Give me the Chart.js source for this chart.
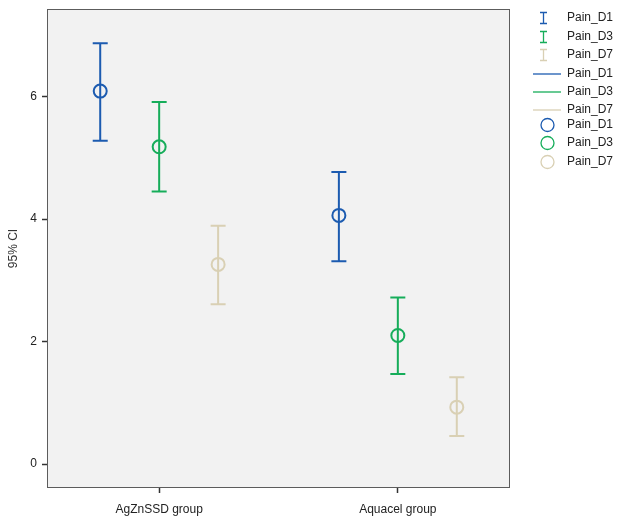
<!DOCTYPE html>
<html>
<head>
<meta charset="utf-8">
<script src="https://cdn.jsdelivr.net/npm/chart.js@4.4.0/dist/chart.umd.min.js"></script>
<style>
  html, body { margin: 0; padding: 0; background: #fff; }
  #wrap { width: 623px; height: 518px; position: relative; }
</style>
</head>
<body>
<div id="wrap"><canvas id="c" width="623" height="518"></canvas></div>
<script>
// groups on the x axis
const groups = ["AgZnSSD group", "Aquacel group"];
const seriesNames = ["Pain_D1", "Pain_D3", "Pain_D7"];
const seriesColors = ["#1c5bb0", "#16ad5a", "#d9d0b4"];

// means and 95% CI bounds, one value per group
const painD1Mean = [6.09, 4.06];
const painD1Low = [5.28, 3.31];
const painD1High = [6.87, 4.77];

const painD3Mean = [5.18, 2.10];
const painD3Low = [4.45, 1.47];
const painD3High = [5.91, 2.72];

const painD7Mean = [3.26, 0.93];
const painD7Low = [2.61, 0.46];
const painD7High = [3.89, 1.42];

const yTicks = [0, 2, 4, 6];
const dodge = [-0.247, 0, 0.247];

const means = [painD1Mean, painD3Mean, painD7Mean];
const lows = [painD1Low, painD3Low, painD7Low];
const highs = [painD1High, painD3High, painD7High];

const datasets = seriesNames.map((name, s) => ({
  label: name,
  data: means[s].map((m, g) => ({ x: g + 1 + dodge[s], y: m, lo: lows[s][g], hi: highs[s][g] })),
  borderColor: seriesColors[s],
  backgroundColor: "rgba(0,0,0,0)",
  borderWidth: 2,
  pointRadius: 6.5,
  pointHoverRadius: 6.5,
  pointStyle: "circle",
  showLine: false
}));

// background + frame + error bars + legend
const plotPlugin = {
  id: "plotStuff",
  beforeDatasetsDraw(chart) {
    const { ctx, scales } = chart;
    ctx.save();
    chart.data.datasets.forEach(ds => {
      ctx.strokeStyle = ds.borderColor;
      ctx.lineWidth = 2;
      ds.data.forEach(p => {
        const x = scales.x.getPixelForValue(p.x);
        const yl = scales.y.getPixelForValue(p.lo);
        const yh = scales.y.getPixelForValue(p.hi);
        ctx.beginPath();
        ctx.moveTo(x, yl); ctx.lineTo(x, yh);
        ctx.moveTo(x - 7.5, yl); ctx.lineTo(x + 7.5, yl);
        ctx.moveTo(x - 7.5, yh); ctx.lineTo(x + 7.5, yh);
        ctx.stroke();
      });
    });
    ctx.restore();
  },
  beforeDraw(chart) {
    const { ctx, chartArea: a } = chart;
    ctx.save();
    ctx.fillStyle = "#f2f2f2";
    ctx.fillRect(a.left, a.top, a.right - a.left, a.bottom - a.top);
    ctx.restore();
  },
  afterDraw(chart) {
    const { ctx, chartArea: a } = chart;
    ctx.save();
    ctx.strokeStyle = "#5c5c5c";
    ctx.lineWidth = 1;
    ctx.strokeRect(a.left + 0.5, a.top + 0.5, a.right - a.left - 1, a.bottom - a.top - 1);

    // legend
    ctx.font = "12px 'Liberation Sans', Arial, sans-serif";
    ctx.textBaseline = "middle";
    const rowY = [18, 37, 55, 74, 92, 110, 125, 143, 162];
    rowY.forEach((y, i) => {
      const s = i % 3, kind = Math.floor(i / 3);
      ctx.strokeStyle = seriesColors[s];
      ctx.lineWidth = 1.3;
      ctx.beginPath();
      if (kind === 0) {
        ctx.moveTo(543.5, y - 5.5); ctx.lineTo(543.5, y + 5.5);
        ctx.moveTo(540, y - 5.5); ctx.lineTo(547, y - 5.5);
        ctx.moveTo(540, y + 5.5); ctx.lineTo(547, y + 5.5);
      } else if (kind === 1) {
        ctx.moveTo(533, y); ctx.lineTo(561, y);
      } else {
        ctx.arc(547.5, y, 6.5, 0, Math.PI * 2);
      }
      ctx.stroke();
      ctx.fillStyle = "#222";
      ctx.fillText(seriesNames[s], 567, y);
    });
    ctx.restore();
  }
};

new Chart(document.getElementById("c"), {
  type: "scatter",
  data: { datasets },
  options: {
    responsive: false,
    animation: false,
    layout: { padding: { top: 9, right: 113, left: 0, bottom: 0 } },
    plugins: { legend: { display: false }, tooltip: { enabled: false } },
    scales: {
      x: {
        type: "linear",
        min: 0.53,
        max: 2.47,
        afterBuildTicks: sc => { sc.ticks = [{ value: 1 }, { value: 2 }]; },
        afterFit: sc => { sc.height = 30; sc.paddingLeft = 0; sc.paddingRight = 0; },
        ticks: {
          callback: v => groups[v - 1],
          color: "#222",
          font: { size: 12, family: "'Liberation Sans', Arial, sans-serif" },
          padding: 9,
          maxRotation: 0
        },
        grid: { drawOnChartArea: false, drawTicks: true, tickLength: 5, color: "#333", tickWidth: 1.5 },
        border: { display: false }
      },
      y: {
        min: -0.39,
        max: 7.43,
        afterBuildTicks: sc => { sc.ticks = yTicks.map(v => ({ value: v })); },
        afterFit: sc => { sc.width = 47; sc.paddingTop = 0; sc.paddingBottom = 0; },
        ticks: {
          color: "#222",
          font: { size: 12, family: "'Liberation Sans', Arial, sans-serif" },
          padding: 5
        },
        title: {
          display: true,
          text: "95% CI",
          color: "#333",
          font: { size: 12, family: "'Liberation Sans', Arial, sans-serif" },
          padding: { top: 6, bottom: 0 }
        },
        grid: { drawOnChartArea: false, drawTicks: true, tickLength: 5, color: "#333", tickWidth: 1.5 },
        border: { display: false }
      }
    }
  },
  plugins: [plotPlugin]
});
</script>
</body>
</html>
